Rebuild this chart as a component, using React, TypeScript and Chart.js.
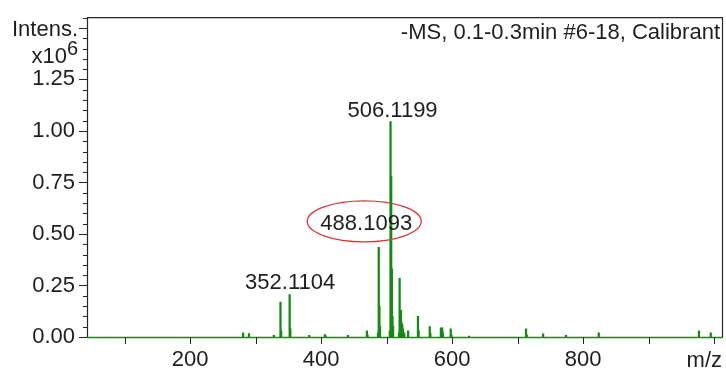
import React, { useEffect, useRef } from 'react';
import { Chart, registerables } from 'chart.js';

Chart.register(...registerables);

// ---- data (m/z, intensity in units of 10^6) ----
const peakMz = [
  281, 290, 328, 338.1, 339.1, 352.11, 353.11, 382, 406, 407, 441, 470, 471,
  487, 488.11, 489.11, 490.11, 505, 506.12, 507.12, 508.12, 509.12, 510,
  519, 520, 521, 522, 523, 524, 525, 527, 533, 548, 549, 566, 567,
  583, 585, 586, 598, 599, 626, 713, 714, 739, 774, 824, 977, 995,
];
const peakIntensity = [
  0.02, 0.016, 0.008, 0.17, 0.03, 0.206, 0.04, 0.008, 0.012, 0.006, 0.008, 0.03, 0.01,
  0.02, 0.435, 0.15, 0.05, 0.03, 1.045, 0.78, 0.33, 0.1, 0.05,
  0.02, 0.285, 0.1, 0.13, 0.07, 0.06, 0.04, 0.02, 0.03, 0.1, 0.03, 0.05, 0.015,
  0.045, 0.045, 0.02, 0.04, 0.01, 0.005, 0.04, 0.01, 0.015, 0.008, 0.02, 0.03, 0.02,
];
const xLabelValues = [200, 400, 600, 800];
const yLabelValues = [0, 0.25, 0.5, 0.75, 1.0, 1.25];
const labeledPeaks = ['352.1104', '488.1093', '506.1199'];
const titleText = '-MS, 0.1-0.3min #6-18, Calibrant';
const xUnitLabel = 'm/z';
const yAxisName = 'Intens.';
const yAxisScale = 'x10';
const yAxisExponent = '6';

const FONT = "'Liberation Sans', Arial, Helvetica, sans-serif";
const GREEN = '#148a14';
const TEXT = '#1e1e1e';

// label placement (pixel offsets from peak apex)
const labelStyle: Record<string, { dx: number; dy: number; ellipse?: boolean }> = {
  '352.1104': { dx: 0.5, dy: -6 },
  '488.1093': { dx: -12.5, dy: -17, ellipse: true },
  '506.1199': { dx: 2, dy: -5 },
};

const near = (a: number, b: number) => Math.abs(a - b) < 1e-6;

const overlay = {
  id: 'overlay',
  afterDraw(chart: any) {
    const { ctx, chartArea: a, scales } = chart;
    const xs = scales.x;
    const ys = scales.y;
    ctx.save();

    // green baseline
    ctx.strokeStyle = GREEN;
    ctx.lineWidth = 1.5;
    ctx.beginPath();
    ctx.moveTo(a.left, a.bottom + 0.5);
    ctx.lineTo(a.right, a.bottom + 0.5);
    ctx.stroke();

    // frame
    ctx.strokeStyle = '#262626';
    ctx.lineWidth = 1.2;
    ctx.beginPath();
    ctx.moveTo(a.left + 0.5, a.bottom);
    ctx.lineTo(a.left + 0.5, a.top + 0.5);
    ctx.lineTo(a.right - 0.5, a.top + 0.5);
    ctx.lineTo(a.right - 0.5, a.bottom);
    ctx.stroke();

    // y ticks (major every 0.25, minor every 0.05)
    ctx.lineWidth = 1;
    ctx.beginPath();
    for (let i = 0; i * 0.05 <= ys.max + 1e-9; i++) {
      const v = i * 0.05;
      const py = Math.round(ys.getPixelForValue(v)) + 0.5;
      const len = i % 5 === 0 ? 8 : 4;
      ctx.moveTo(a.left - len, py);
      ctx.lineTo(a.left, py);
    }
    // x ticks every 100
    for (let v = 100; v <= xs.max; v += 100) {
      const px = Math.round(xs.getPixelForValue(v)) + 0.5;
      ctx.moveTo(px, a.bottom);
      ctx.lineTo(px, a.bottom + 7);
    }
    ctx.stroke();

    ctx.fillStyle = TEXT;
    ctx.textBaseline = 'alphabetic';
    ctx.font = `22px ${FONT}`;

    // title
    ctx.textAlign = 'right';
    ctx.fillText(titleText, a.right - 3, 39);

    // y axis name
    const pTop = ys.getPixelForValue(1.5);
    ctx.fillText(yAxisName, 78, pTop + 8);
    ctx.font = `20px ${FONT}`;
    const expW = ctx.measureText(yAxisExponent).width;
    ctx.fillText(yAxisExponent, 78, 55);
    ctx.font = `22px ${FONT}`;
    ctx.fillText(yAxisScale, 78 - expW, 63);

    // x unit
    ctx.fillText(xUnitLabel, a.right - 1, 367);

    // peak labels
    ctx.textAlign = 'center';
    labeledPeaks.forEach((txt) => {
      const mz = parseFloat(txt);
      let best = 0;
      peakMz.forEach((m, i) => {
        if (Math.abs(m - mz) < Math.abs(peakMz[best] - mz)) best = i;
      });
      const st = labelStyle[txt];
      const px = xs.getPixelForValue(peakMz[best]);
      const py = ys.getPixelForValue(peakIntensity[best]);
      const cx = px + st.dx;
      const by = py + st.dy;
      ctx.fillStyle = TEXT;
      ctx.fillText(txt, cx, by);
      if (st.ellipse) {
        ctx.strokeStyle = '#d8363a';
        ctx.lineWidth = 1.3;
        ctx.beginPath();
        ctx.ellipse(cx - 2, by - 9, 57, 20.5, 0, 0, Math.PI * 2);
        ctx.stroke();
      }
    });

    ctx.restore();
  },
};

export default function App() {
  const ref = useRef<HTMLCanvasElement | null>(null);

  useEffect(() => {
    if (!ref.current) return;
    const chart = new Chart(ref.current, {
      type: 'bar',
      data: {
        datasets: [
          {
            data: peakMz.map((m, i) => ({ x: m, y: peakIntensity[i] })),
            backgroundColor: GREEN,
            borderWidth: 0,
            barThickness: 1.6,
            grouped: false,
          } as any,
        ],
      },
      options: {
        animation: false,
        responsive: true,
        maintainAspectRatio: false,
        layout: { padding: { top: 13, right: 3, left: 0, bottom: 0 } },
        plugins: { legend: { display: false }, tooltip: { enabled: false } },
        scales: {
          x: {
            type: 'linear',
            min: 42.7,
            max: 1013.7,
            offset: false,
            grid: { display: false, drawTicks: true, tickLength: 7 },
            border: { display: false },
            ticks: {
              stepSize: 100,
              includeBounds: false,
              autoSkip: false,
              maxRotation: 0,
              padding: 3,
              color: TEXT,
              font: { family: FONT, size: 22 },
              callback: (v: any) =>
                xLabelValues.some((l) => near(l, Number(v))) ? String(v) : '',
            },
            afterFit: (s: any) => {
              s.height = 37;
            },
          },
          y: {
            min: 0,
            max: 1.552,
            grid: { display: false, drawTicks: true, tickLength: 8 },
            border: { display: false },
            ticks: {
              stepSize: 0.05,
              includeBounds: false,
              autoSkip: false,
              padding: 4,
              color: TEXT,
              font: { family: FONT, size: 22 },
              callback: (v: any) => {
                const l = yLabelValues.find((t) => near(t, Number(v)));
                return l === undefined ? '' : l.toFixed(2);
              },
            },
            afterFit: (s: any) => {
              s.width = 87;
            },
          },
        },
      } as any,
      plugins: [overlay],
    });
    return () => chart.destroy();
  }, []);

  return (
    <div style={{ position: 'fixed', left: 0, top: 0, width: 726, height: 374, background: '#fff' }}>
      <canvas ref={ref} style={{ display: 'block' }} />
    </div>
  );
}
